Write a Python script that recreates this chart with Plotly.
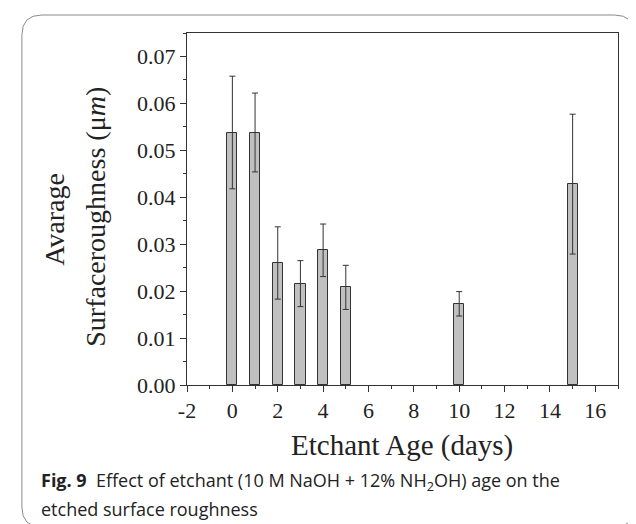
import plotly.graph_objects as go

# ---- data ----
ages = [0, 1, 2, 3, 4, 5, 10, 15]
roughness = [0.0538, 0.0538, 0.0260, 0.0216, 0.0287, 0.0208, 0.0173, 0.0428]
errors = [0.0120, 0.0084, 0.0077, 0.0049, 0.0056, 0.0047, 0.0026, 0.0149]
x_ticks = [-2, 0, 2, 4, 6, 8, 10, 12, 14, 16]
y_ticks = [0.00, 0.01, 0.02, 0.03, 0.04, 0.05, 0.06, 0.07]

W, H = 636, 524
L, R, T, B = 178.5, 610.5, 25, 377  # plot area in px


def px(xp):
    return (xp - L) / (R - L)


def py(yp):
    return (B - yp) / (B - T)


fig = go.Figure()
fig.add_trace(go.Bar(
    x=ages, y=roughness, width=0.45,
    marker=dict(color="#c0c0c0", line=dict(color="#333333", width=1)),
    error_y=dict(type="data", array=errors, visible=True,
                 color="#333333", thickness=1, width=3),
    showlegend=False,
))

axis_common = dict(
    showline=True, linecolor="#333333", linewidth=1, mirror=True,
    showgrid=False, zeroline=False, ticks="outside", ticklen=6,
    tickcolor="#333333", tickwidth=1,
    tickfont=dict(family="Liberation Serif", size=22, color="#222222"),
)

fig.update_xaxes(range=[-2, 17], tickvals=x_ticks,
                 ticktext=[str(v) for v in x_ticks],
                 minor=dict(dtick=1, tick0=0, ticks="outside", ticklen=3,
                            tickcolor="#333333", showgrid=False),
                 **axis_common)
fig.update_yaxes(range=[0, 0.075], tickvals=y_ticks,
                 ticktext=["%.2f" % v for v in y_ticks],
                 minor=dict(dtick=0.005, tick0=0, ticks="outside", ticklen=3,
                            tickcolor="#333333", showgrid=False),
                 **axis_common)

# rounded card border
x0, x1, y0, y1, r = 13, 627, 7, 519, 20
path = (f"M {px(x0+r)},{py(y0)} L {px(x1-r)},{py(y0)} "
        f"Q {px(x1)},{py(y0)} {px(x1)},{py(y0+r)} "
        f"L {px(x1)},{py(y1-r)} Q {px(x1)},{py(y1)} {px(x1-r)},{py(y1)} "
        f"L {px(x0+r)},{py(y1)} Q {px(x0)},{py(y1)} {px(x0)},{py(y1-r)} "
        f"L {px(x0)},{py(y0+r)} Q {px(x0)},{py(y0)} {px(x0+r)},{py(y0)} Z")
fig.add_shape(type="path", path=path, xref="paper", yref="paper",
              line=dict(color="#8a8a8a", width=1), layer="below")

serif = dict(family="Liberation Serif", color="#222222")
annotations = [
    dict(text="Avarage", x=px(46), y=py(211), textangle=-90,
         font=dict(size=28, **serif)),
    dict(text="Surfaceroughness (\u03bc<i>m</i>)", x=px(86), y=py(209), textangle=-90,
         font=dict(size=28, **serif)),
    dict(text="Etchant Age (days)", x=px(394), y=py(437),
         font=dict(size=29, **serif)),
    dict(text="<b>Fig. 9</b>  Effect of etchant (10 M NaOH + 12% NH<sub>2</sub>OH) age on the",
         x=px(30), y=py(473), xanchor="left",
         font=dict(family="Open Sans", size=18, color="#222222")),
    dict(text="etched surface roughness", x=px(30), y=py(501), xanchor="left",
         font=dict(family="Open Sans", size=18, color="#222222")),
]
for a in annotations:
    a.setdefault("xanchor", "center")
    a.update(xref="paper", yref="paper", showarrow=False, yanchor="middle")
fig.update_layout(annotations=annotations)

fig.update_layout(
    width=W, height=H,
    margin=dict(l=L, r=W - R, t=T, b=H - B),
    plot_bgcolor="white", paper_bgcolor="white",
    bargap=0,
)

fig.write_html("out.html")
